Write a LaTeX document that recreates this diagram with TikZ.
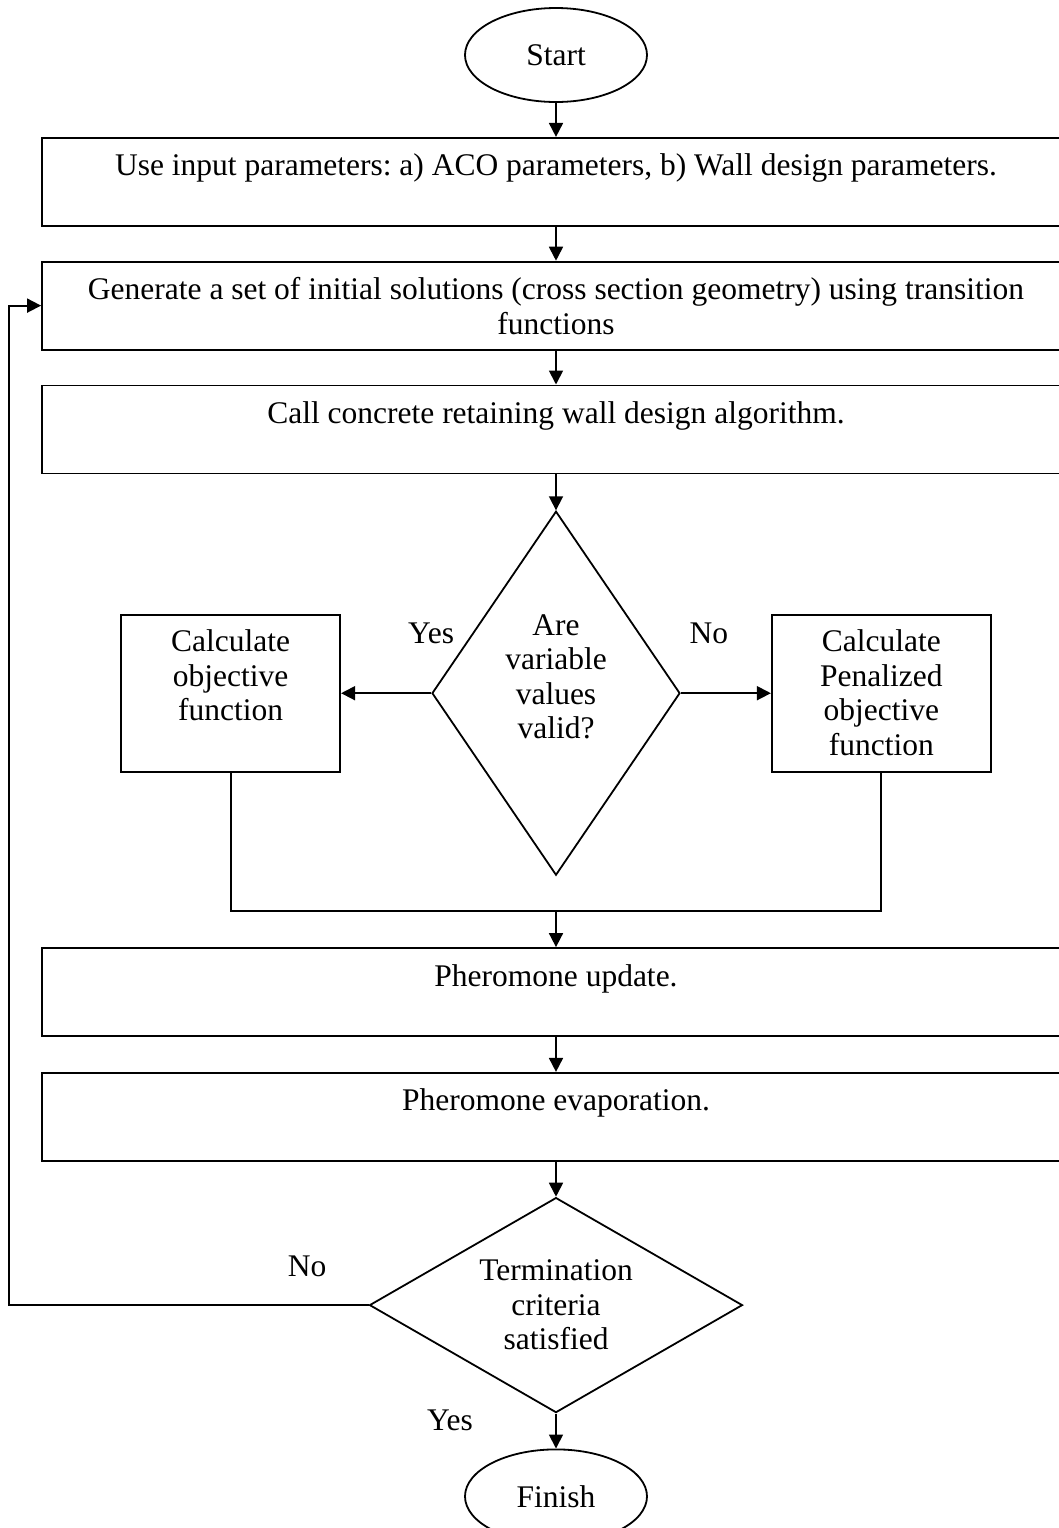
\documentclass[tikz,border=0pt]{standalone}
\usepackage{fontspec}
\setmainfont{Liberation Serif}
\frenchspacing
\usetikzlibrary{arrows.meta,positioning,shapes.geometric}

\begin{document}
\begin{tikzpicture}[x=0.5pt,y=-0.5pt,
  font=\fontsize{15.75}{17.25}\selectfont, line width=0.9pt,
  box/.style={draw,rectangle,align=flush center,inner sep=0pt,text width=514pt,minimum height=44pt,text height=19pt,text depth=25pt},
  sidebox/.style={draw,rectangle,align=flush center,inner sep=0pt,text width=109.5pt,minimum height=78.5pt,text height=18.5pt,text depth=60pt},
  terminal/.style={draw,ellipse,inner sep=0pt,minimum width=91pt,minimum height=47pt},
  decision/.style={draw,diamond,align=flush center,inner sep=0pt},
  arr/.style={-{Triangle[length=7pt,width=7pt]}}, node distance=17pt]
\useasboundingbox (0,0) rectangle (1059,1528);
\node[terminal] (start) at (556,55) {Start};
\node[box,below=of start] (input) {Use input parameters: a) ACO parameters, b) Wall design parameters.};
\node[box,below=of input] (gen) {Generate a set of initial solutions (cross section geometry) using transition\\functions};
\node[box,below=of gen] (design) {Call concrete retaining wall design algorithm.};
\node[decision,text width=62pt,aspect=0.681,minimum width=124pt,minimum height=182pt,text height=11pt,text depth=69pt,below=18pt of design] (valid) {Are\\variable\\values\\valid?};
\node[sidebox,left=45pt of valid] (calcobj) {Calculate\\objective\\function};
\node[sidebox,right=45pt of valid] (calcpen) {Calculate\\Penalized\\objective\\function};
\coordinate[below=17.5pt of valid] (merge);
\node[box,below=35.5pt of valid] (update) {Pheromone update.};
\node[box,below=17.5pt of update] (evap) {Pheromone evaporation.};
\node[decision,text width=86pt,aspect=1.735,minimum width=186.5pt,minimum height=107.5pt,below=17.5pt of evap] (stopcheck) {Termination\\criteria\\satisfied};
\node[terminal,below=17.5pt of stopcheck] (finish) {Finish};
\coordinate (loopx) at (9,0);
\node (yes1) at ([yshift=30pt]valid.west) {Yes};
\node (no1) at ([xshift=14pt,yshift=30pt]valid.east) {No};
\node (no2) at ([xshift=-30.75pt,yshift=19.6pt]stopcheck.west) {No};
\node (yes2) at ([xshift=-53pt,yshift=-3.6pt]stopcheck.south) {Yes};
\draw[arr] (start) -- (input);
\draw[arr] (input) -- (gen);
\draw[arr] (gen) -- (design);
\draw[arr] (design) -- (valid);
\draw[arr] (valid) -- (calcobj);
\draw[arr] (valid) -- (calcpen);
\draw (calcobj) |- (merge) -| (calcpen);
\draw[arr] (merge) -- (update);
\draw[arr] (update) -- (evap);
\draw[arr] (evap) -- (stopcheck);
\draw[arr] (stopcheck) -- (finish);
\draw[arr] (stopcheck.west) -- (stopcheck.west -| loopx) |- (gen.west);
\end{tikzpicture}
\end{document}
